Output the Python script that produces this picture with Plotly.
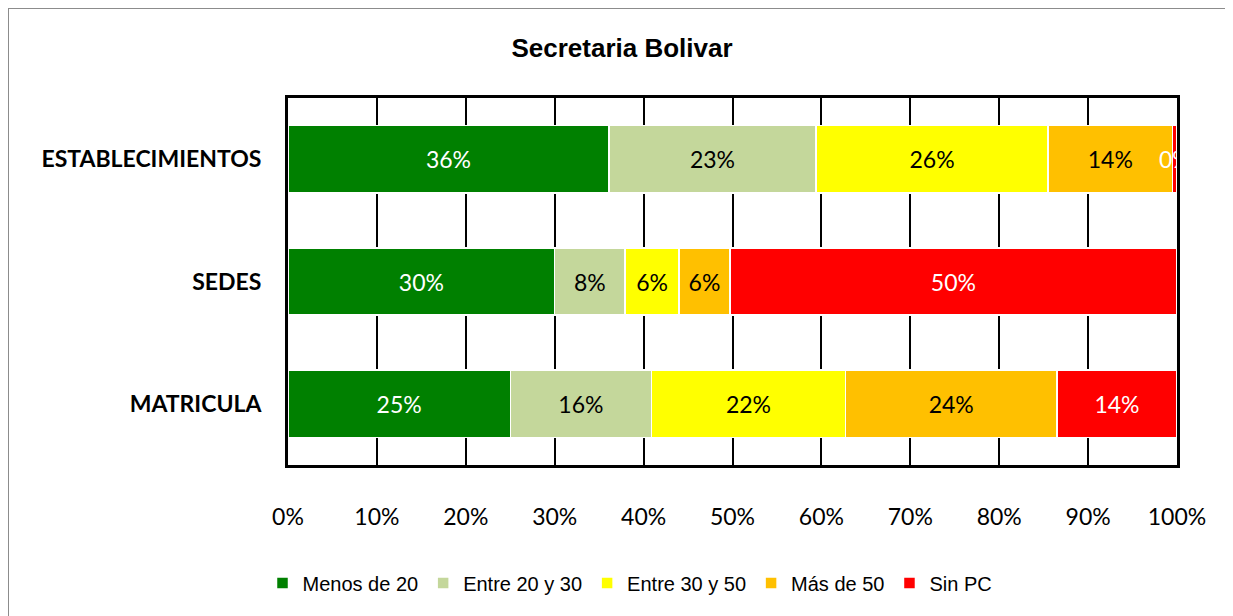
import plotly.graph_objects as go

categories = ["ESTABLECIMIENTOS", "SEDES", "MATRICULA"]
series_names = ["Menos de 20", "Entre 20 y 30", "Entre 30 y 50", "Más de 50", "Sin PC"]
menos_20 = [36.1, 30.0, 25.0]
entre_20_30 = [23.3, 7.9, 15.9]
entre_30_50 = [26.1, 6.1, 21.8]
mas_50 = [14.0, 5.7, 23.8]
sin_pc = [0.5, 50.3, 13.5]
labels = [
    ["36%", "30%", "25%"],
    ["23%", "8%", "16%"],
    ["26%", "6%", "22%"],
    ["14%", "6%", "24%"],
    ["0%", "50%", "14%"],
]
colors = ["#008000", "#C4D79B", "#FFFF00", "#FFC000", "#FF0000"]
text_colors = ["white", "black", "black", "black", "white"]
x_ticks = [0, 10, 20, 30, 40, 50, 60, 70, 80, 90, 100]
x_tick_labels = ["0%", "10%", "20%", "30%", "40%", "50%", "60%", "70%", "80%", "90%", "100%"]

values = [menos_20, entre_20_30, entre_30_50, mas_50, sin_pc]

fig = go.Figure()
for name, vals, col, txt, tcol in zip(series_names, values, colors, labels, text_colors):
    fig.add_trace(go.Bar(
        y=categories, x=vals, orientation="h", name=name,
        marker=dict(color=col, line=dict(color="white", width=1.5)),
        text=txt, textposition="inside", insidetextanchor="middle", textangle=0,
        textfont=dict(family="Lato, Open Sans, sans-serif", size=23, color=tcol),
        constraintext="none",
    ))

H = 608
fig.update_layout(
    width=1225, height=H,
    barmode="stack", bargap=0.45,
    plot_bgcolor="white", paper_bgcolor="white",
    margin=dict(l=280, r=56, t=90, b=151),
    uniformtext=dict(mode="show", minsize=23),
    title=dict(text="<b>Secretaria Bolivar</b>", x=(622 - 8) / 1225, xref="container", xanchor="center",
               y=1 - 40 / H, yref="container", yanchor="middle",
               font=dict(family="Liberation Sans, Arial, sans-serif", size=26, color="black")),
    legend=dict(orientation="h", x=(630 - 288) / 889, xanchor="center", y=(465 - 583) / 367, yanchor="middle",
                font=dict(family="Liberation Sans, Arial", size=20, color="black"),
                itemwidth=30, traceorder="normal"),
    showlegend=True,
)
fig.update_xaxes(range=[0, 100], tickvals=x_ticks, ticktext=x_tick_labels,
                 showgrid=True, gridcolor="black", gridwidth=2,
                 showline=True, linecolor="black", linewidth=3, mirror=True,
                 ticks="", ticklabelstandoff=29, zeroline=False,
                 tickfont=dict(family="Lato, Open Sans, sans-serif", size=23, color="black"))
fig.update_yaxes(categoryorder="array", categoryarray=categories, autorange="reversed",
                 showline=True, linecolor="black", linewidth=3, mirror=True,
                 ticks="", ticklabelstandoff=19, showgrid=False,
                 tickfont=dict(family="Lato, Open Sans, sans-serif", size=23, color="black", weight="bold"))

fig.add_shape(type="rect", xref="paper", yref="paper",
              x0=(8 - 288) / 889, x1=(1250 - 288) / 889,
              y0=(465 - 640) / 367, y1=(465 - 8) / 367,
              line=dict(color="#8C8C8C", width=2), fillcolor="rgba(0,0,0,0)", layer="below")

fig.write_html("out.html")
